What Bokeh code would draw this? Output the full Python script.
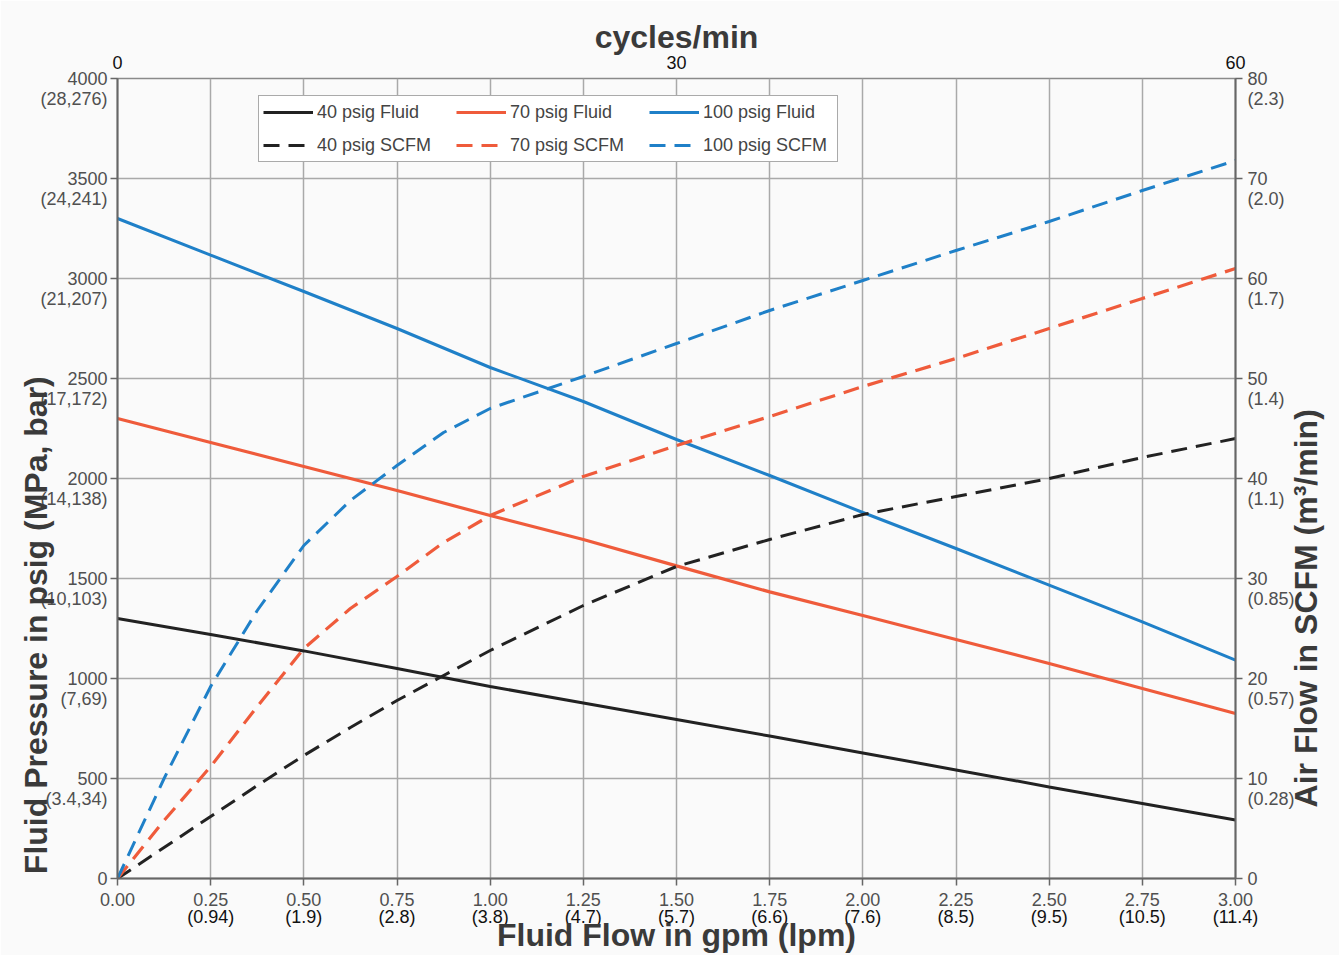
import math
from bokeh.plotting import figure
from bokeh.models import (Range1d, LinearAxis, FixedTicker, Legend, LegendItem,
                          NumeralTickFormatter)
from bokeh.embed import file_html
from bokeh.resources import INLINE

FONT = "Liberation Sans"

# ---------------- data ----------------
gpm = [0.0, 0.25, 0.5, 0.75, 1.0, 1.25, 1.5, 1.75, 2.0, 2.25, 2.5, 2.75, 3.0]
fluid_40 = [1300, 1220, 1138, 1050, 960, 878, 795, 712, 628, 543, 458, 375, 292]
fluid_70 = [2300, 2180, 2060, 1940, 1815, 1695, 1563, 1433, 1315, 1195, 1075, 950, 825]
fluid_100 = [3300, 3117, 2935, 2750, 2555, 2385, 2195, 2015, 1830, 1650, 1467, 1283, 1092]

scfm_gpm = [0.0, 0.125, 0.25, 0.375, 0.5, 0.625, 0.75, 0.875, 1.0, 1.25, 1.5, 1.75, 2.0, 2.25, 2.5, 2.75, 3.0]
scfm_40 = [0, 3.1, 6.2, 9.3, 12.3, 15.1, 17.8, 20.3, 22.8, 27.3, 31.2, 33.9, 36.4, 38.2, 40.0, 42.1, 44.0]
scfm_70 = [0, 5.8, 11.2, 17.2, 23.0, 27.0, 30.2, 33.6, 36.3, 40.2, 43.3, 46.2, 49.2, 52.0, 55.0, 58.0, 61.0]
scfm_100 = [0, 10.0, 19.2, 26.8, 33.3, 37.8, 41.3, 44.6, 47.0, 50.2, 53.5, 56.8, 59.8, 62.8, 65.7, 68.8, 71.8]

x_ticks = [0.0, 0.25, 0.5, 0.75, 1.0, 1.25, 1.5, 1.75, 2.0, 2.25, 2.5, 2.75, 3.0]
x_sub_ticks = [0.25, 0.5, 0.75, 1.0, 1.25, 1.5, 1.75, 2.0, 2.25, 2.5, 2.75, 3.0]
x_sub_labels = ["(0.94)", "(1.9)", "(2.8)", "(3.8)", "(4.7)", "(5.7)", "(6.6)",
                "(7.6)", "(8.5)", "(9.5)", "(10.5)", "(11.4)"]
y_ticks = [0, 500, 1000, 1500, 2000, 2500, 3000, 3500, 4000]
y_sub_ticks = [4000, 3500, 3000, 2500, 2000, 1500, 1000, 500]
y_sub_labels = ["(28,276)", "(24,241)", "(21,207)", "(17,172)", "(14,138)",
                "(10,103)", "(7,69)", "(3.4,34)"]
r_ticks = [0, 10, 20, 30, 40, 50, 60, 70, 80]
r_sub_ticks = [80, 70, 60, 50, 40, 30, 20, 10]
r_sub_labels = ["(2.3)", "(2.0)", "(1.7)", "(1.4)", "(1.1)", "(0.85)", "(0.57)", "(0.28)"]
top_ticks = [0, 30, 60]

BLACK = "#222222"
RED = "#ef5b3b"
BLUE = "#1f80c8"
BG = "#fafafa"

FRAME_W, FRAME_H = 1118, 800
Y_MAX, R_MAX = 4000, 80
LINE_GAP_PX = 20  # second label line sits this many px below the first
y_gap = LINE_GAP_PX * Y_MAX / FRAME_H
r_gap = LINE_GAP_PX * R_MAX / FRAME_H
NBSP = "\u00a0"

# ---------------- figure ----------------
p = figure(frame_width=FRAME_W, frame_height=FRAME_H,
           x_range=Range1d(0, 3), y_range=Range1d(0, Y_MAX),
           output_backend="svg", toolbar_location=None,
           min_border_left=117, min_border_right=98, min_border_top=78, min_border_bottom=76,
           background_fill_color=BG, border_fill_color=BG)
p.extra_x_ranges = {"cycles": Range1d(0, 60)}
p.extra_y_ranges = {"scfm": Range1d(0, R_MAX)}
p.outline_line_color = "#8a8a8a"
p.outline_line_width = 1.5

p.xgrid.ticker = FixedTicker(ticks=x_ticks)
p.ygrid.ticker = FixedTicker(ticks=y_ticks)
for g in (p.xgrid, p.ygrid):
    g.grid_line_color = "#a9a9a9"
    g.grid_line_width = 1.5

def style_axis(ax, color="#505050"):
    ax.major_label_text_font = FONT
    ax.major_label_text_font_size = "18px"
    ax.major_label_text_color = color
    ax.axis_line_color = "#666666"
    ax.axis_line_width = 2
    ax.major_tick_line_color = "#666666"
    ax.major_tick_line_width = 1.5
    ax.major_tick_out = 7
    ax.major_tick_in = 0
    ax.minor_tick_out = 0
    ax.minor_tick_in = 0

def style_title(ax):
    ax.axis_label_text_font = FONT
    ax.axis_label_text_font_size = "32px"
    ax.axis_label_text_font_style = "bold"
    ax.axis_label_text_color = "#3a3a3a"

def label_only(ax):
    ax.axis_line_color = None
    ax.major_tick_out = 0
    ax.major_tick_in = 0

# bottom: main numbers
xa = p.xaxis[0]
xa.ticker = FixedTicker(ticks=x_ticks)
xa.formatter = NumeralTickFormatter(format="0.00")
style_axis(xa)
xa.major_label_standoff = 7

# bottom: converted values (second line) + title
xb = LinearAxis(ticker=FixedTicker(ticks=x_sub_ticks),
                major_label_overrides=dict(zip(x_sub_ticks, x_sub_labels)))
style_axis(xb, color="#111111")
label_only(xb)
xb.major_label_standoff = -2
xb.axis_label = "Fluid Flow in gpm (lpm)"
style_title(xb)
xb.axis_label_standoff = -13
p.add_layout(xb, "below")

# left: tick marks only
ya = p.yaxis[0]
ya.ticker = FixedTicker(ticks=y_ticks)
style_axis(ya)
ya.major_label_overrides = {t: "" for t in y_ticks}
ya.major_label_text_font_size = "1px"
ya.major_label_standoff = 0

# left: two-line labels + title (trailing no-break spaces lower the centred title)
left_pos = y_ticks + [t - y_gap for t in y_sub_ticks]
left_txt = {t: str(t) for t in y_ticks}
left_txt.update({t - y_gap: s for t, s in zip(y_sub_ticks, y_sub_labels)})
yl = LinearAxis(ticker=FixedTicker(ticks=left_pos), major_label_overrides=left_txt)
style_axis(yl)
label_only(yl)
yl.major_label_standoff = 3
yl.axis_label = "Fluid Pressure in psig (MPa, bar)" + NBSP * 33
style_title(yl)
yl.axis_label_standoff = -17
p.add_layout(yl, "left")

# right: tick marks only
ra = LinearAxis(y_range_name="scfm", ticker=FixedTicker(ticks=r_ticks),
                major_label_overrides={t: "" for t in r_ticks})
style_axis(ra)
ra.major_label_text_font_size = "1px"
ra.major_label_standoff = 0
p.add_layout(ra, "right")

# right: two-line labels + title
right_pos = r_ticks + [t - r_gap for t in r_sub_ticks]
right_txt = {t: str(t) for t in r_ticks}
right_txt.update({t - r_gap: s for t, s in zip(r_sub_ticks, r_sub_labels)})
rl = LinearAxis(y_range_name="scfm", ticker=FixedTicker(ticks=right_pos),
                major_label_overrides=right_txt)
style_axis(rl)
label_only(rl)
rl.major_label_standoff = 5
rl.axis_label = NBSP * 8 + "Air Flow  in SCFM (m\u00b3/min)"
style_title(rl)
rl.axis_label_orientation = math.pi / 2
rl.axis_label_align = "start"
rl.axis_label_standoff = 8
p.add_layout(rl, "right")

# top axis
ta = LinearAxis(x_range_name="cycles", ticker=FixedTicker(ticks=top_ticks))
style_axis(ta, color="#111111")
ta.axis_line_color = None
ta.major_tick_out = 0
ta.major_label_standoff = 10
ta.axis_label = "cycles/min"
style_title(ta)
ta.axis_label_standoff = -2
p.add_layout(ta, "above")

# ---------------- lines ----------------
DASH = "16 9"
r40f = p.line(gpm, fluid_40, line_color=BLACK, line_width=3)
r70f = p.line(gpm, fluid_70, line_color=RED, line_width=3.2)
r100f = p.line(gpm, fluid_100, line_color=BLUE, line_width=3)
r40s = p.line(scfm_gpm, scfm_40, y_range_name="scfm", line_color=BLACK, line_width=3, line_dash=DASH)
r70s = p.line(scfm_gpm, scfm_70, y_range_name="scfm", line_color=RED, line_width=3.2, line_dash=DASH)
r100s = p.line(scfm_gpm, scfm_100, y_range_name="scfm", line_color=BLUE, line_width=3, line_dash=DASH)

legend = Legend(items=[
    LegendItem(label="40 psig Fluid", renderers=[r40f]),
    LegendItem(label="70 psig Fluid", renderers=[r70f]),
    LegendItem(label="100 psig Fluid", renderers=[r100f]),
    LegendItem(label="40 psig SCFM", renderers=[r40s]),
    LegendItem(label="70 psig SCFM", renderers=[r70s]),
    LegendItem(label="100 psig SCFM", renderers=[r100s]),
], location=(141, 716), orientation="horizontal", ncols=3,
    label_text_font=FONT, label_text_font_size="18px", label_text_color="#444444",
    glyph_width=50, glyph_height=24, label_standoff=4, label_width=130,
    spacing=9, padding=4, margin=0,
    border_line_color="#555555", border_line_width=1.5,
    background_fill_color="white", background_fill_alpha=1.0)
p.add_layout(legend)

open("out.html", "w").write(file_html(p, INLINE))
